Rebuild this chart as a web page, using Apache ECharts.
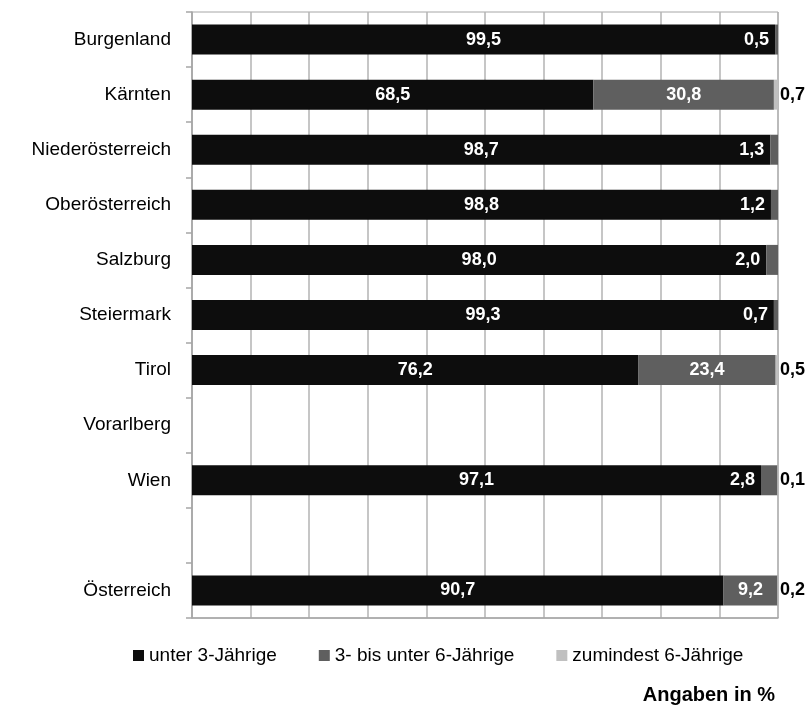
<!DOCTYPE html>
<html>
<head>
<meta charset="utf-8">
<script src="https://cdn.jsdelivr.net/npm/echarts@6/dist/echarts.min.js"></script>
<style>
  html, body { margin: 0; padding: 0; background: #fff; }
  #chart { width: 810px; height: 708px; }
</style>
</head>
<body>
<div id="chart"></div>
<script>
// Bundesländer (leere Zeile zwischen Wien und Österreich)
const categories = ["Burgenland", "Kärnten", "Niederösterreich", "Oberösterreich", "Salzburg",
  "Steiermark", "Tirol", "Vorarlberg", "Wien", "", "Österreich"];
const seriesNames = ["unter 3-Jährige", "3- bis unter 6-Jährige", "zumindest 6-Jährige"];
const under3 = [99.5, 68.5, 98.7, 98.8, 98.0, 99.3, 76.2, null, 97.1, null, 90.7];
const from3to6 = [0.5, 30.8, 1.3, 1.2, 2.0, 0.7, 23.4, null, 2.8, null, 9.2];
const atLeast6 = [null, 0.7, null, null, null, null, 0.5, null, 0.1, null, 0.2];

const fmt = v => v.toFixed(1).replace(".", ",");
const font = "Liberation Sans, Arial, sans-serif";

const chart = echarts.init(document.getElementById("chart"));

const labelBase = {
  show: true,
  fontFamily: font,
  fontWeight: "bold",
  fontSize: 18,
  formatter: p => (p.value == null ? "" : fmt(p.value)),
};

chart.setOption({
  animation: false,
  textStyle: { fontFamily: font },
  grid: {
    left: 192, right: 32, top: 12, bottom: 90,
    show: true, borderColor: "#a6a6a6", borderWidth: 1,
  },
  legend: {
    bottom: 38,
    left: 128,
    icon: "rect",
    itemWidth: 11,
    itemHeight: 11,
    itemGap: 42,
    textStyle: { fontSize: 19, color: "#000", fontFamily: font },
    data: seriesNames,
  },
  xAxis: {
    type: "value",
    min: 0, max: 100, interval: 10,
    axisLabel: { show: false },
    axisTick: { show: false },
    axisLine: { show: true, lineStyle: { color: "#a6a6a6", width: 1.5 } },
    splitLine: { show: true, lineStyle: { color: "#b3b3b3", width: 1.5 } },
  },
  yAxis: {
    type: "category",
    inverse: true,
    data: categories,
    axisLine: { show: true, lineStyle: { color: "#a6a6a6", width: 1.5 } },
    axisTick: { show: true, length: 6, lineStyle: { color: "#a6a6a6", width: 1.5 } },
    axisLabel: { fontSize: 19, color: "#000", margin: 21, fontFamily: font },
  },
  series: [
    {
      name: seriesNames[0], type: "bar", stack: "total", barWidth: 30,
      itemStyle: { color: "#0d0d0d" },
      label: Object.assign({}, labelBase, { position: "inside", color: "#fff" }),
      data: under3,
    },
    {
      name: seriesNames[1], type: "bar", stack: "total", barWidth: 30,
      itemStyle: { color: "#5f5f5f" },
      label: Object.assign({}, labelBase, { position: "inside", color: "#fff" }),
      data: from3to6.map(v => (v != null && v < 5
        ? { value: v, label: { position: "left", distance: 6 } }
        : v)),
    },
    {
      name: seriesNames[2], type: "bar", stack: "total", barWidth: 30,
      itemStyle: { color: "#c0c0c0" },
      label: Object.assign({}, labelBase, { position: "right", distance: 2, color: "#000" }),
      data: atLeast6,
    },
  ],
  graphic: [{
    type: "text",
    right: 35,
    top: 685,
    style: { text: "Angaben in %", fontSize: 20, fontWeight: "bold", fontFamily: font, fill: "#000" },
  }],
});
</script>
</body>
</html>
